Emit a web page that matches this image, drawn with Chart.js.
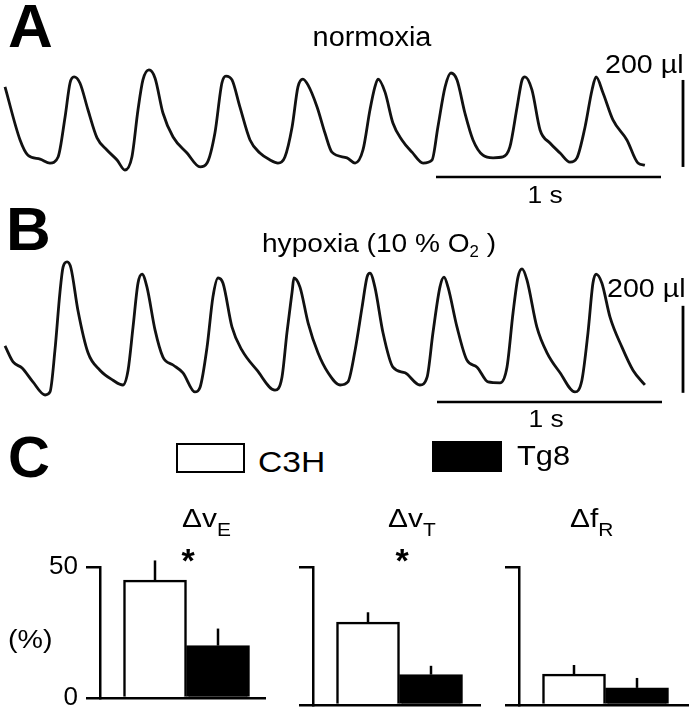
<!DOCTYPE html>
<html>
<head>
<meta charset="utf-8">
<script src="https://cdn.jsdelivr.net/npm/chart.js@4.4.1/dist/chart.umd.min.js"></script>
<style>
  html, body { margin: 0; padding: 0; background: #fff; }
  body { width: 697px; height: 719px; position: relative; overflow: hidden; font-family: "Liberation Sans", Arial, Helvetica, sans-serif; color: #000; }
  canvas { position: absolute; }
  .t { position: absolute; white-space: nowrap; }
  .box { position: absolute; box-sizing: border-box; border: 2.5px solid #000; }
</style>
</head>
<body>
<script>
// ---------- DATA ----------
// Panel A: normoxia airflow trace (time in ms, volume in µl)
const timeA = [0,67,102,156,200,236,267,289,307,333,369,409,453,498,533,564,591,613,640,667,702,747,809,867,898,933,964,982,1009,1044,1089,1133,1178,1213,1244,1276,1302,1324,1347,1387,1422,1453,1520,1556,1591,1622,1644,1658,1689,1724,1764,1809,1858,1898,1924,1956,1982,2009,2044,2080,2124,2169,2213,2244,2276,2298,2311,2342,2378,2422,2467,2511,2542,2578,2609,2627,2658,2702,2764,2813,2844];
const volumeA = [191,69,34,25,16,30,122,200,214,200,138,74,46,23,0,30,138,207,230,211,131,76,39,7,16,85,200,216,207,145,69,39,23,16,30,99,191,209,195,145,85,41,28,16,46,138,191,209,179,108,69,41,16,23,99,191,223,207,131,69,34,28,30,53,145,207,214,184,92,62,39,18,28,99,184,214,177,115,69,16,11];
// Panel B: hypoxia (10 % O2) trace
const timeB = [0,36,76,124,178,200,222,244,258,276,293,324,369,422,480,524,547,569,591,609,631,667,702,747,791,844,867,898,924,947,969,1009,1053,1120,1200,1231,1253,1276,1284,1311,1347,1391,1436,1489,1524,1556,1587,1609,1622,1644,1680,1724,1778,1844,1876,1902,1933,1951,1969,2009,2053,2098,2147,2200,2231,2258,2280,2298,2320,2364,2409,2467,2533,2564,2591,2613,2627,2653,2689,2742,2791,2844];
const volumeB = [113,76,62,30,0,7,103,235,294,306,292,195,97,57,34,23,57,156,257,278,248,149,87,69,51,7,18,110,225,269,257,156,103,57,11,41,143,237,269,248,166,97,51,23,30,103,202,271,280,248,143,64,51,23,41,143,248,271,248,156,80,64,30,28,64,189,271,290,264,156,97,51,7,34,143,257,278,257,179,110,57,23];
// Scale bars
const scaleVolume = 200;   // µl
const scaleTime = 1000;    // ms
// Panel C: percent change on hypoxia
const groups = ['ΔvE', 'ΔvT', 'ΔfR'];
const seriesNames = ['C3H', 'Tg8'];
const c3hMean = [45, 30, 11.2];
const c3hErr = [7.5, 3.6, 3.3];
const tg8Mean = [20, 11, 6.2];
const tg8Err = [6.5, 3.2, 3.6];
const significant = [true, true, false];
const yTicks = [0, 50];

// ---------- LAYOUT ----------
const MS_PER_PX = 1000 / 225;
const UL_PER_PX = 200 / 87;

function label(html, x, base, size, opt = {}) {
  const d = document.createElement('div');
  d.className = 't';
  d.innerHTML = html;
  d.style.fontSize = size + 'px';
  d.style.lineHeight = size + 'px';
  d.style.top = (base - 0.8465 * size) + 'px';
  d.style.left = x + 'px';
  if (opt.bold) d.style.fontWeight = 'bold';
  const s = opt.sx || 1;
  const align = opt.align || 'left';
  if (align === 'center') { d.style.transform = 'translateX(-50%) scaleX(' + s + ')'; d.style.transformOrigin = 'center'; }
  else if (align === 'right') { d.style.transform = 'translateX(-100%) scaleX(' + s + ')'; d.style.transformOrigin = 'right'; }
  else { d.style.transform = 'scaleX(' + s + ')'; d.style.transformOrigin = 'left'; }
  document.body.appendChild(d);
  return d;
}

function makeCanvas(left, top, w, h) {
  const c = document.createElement('canvas');
  c.width = w; c.height = h;
  c.style.left = left + 'px'; c.style.top = top + 'px';
  c.style.width = w + 'px'; c.style.height = h + 'px';
  document.body.appendChild(c);
  return c;
}

function traceChart(times, vols, top, height, zeroY, tBar, vBar0, hBarV, hBarT0) {
  const canvas = makeCanvas(0, top, 697, height);
  const pts = times.map((t, i) => ({ x: t, y: vols[i] }));
  new Chart(canvas, {
    type: 'scatter',
    data: {
      datasets: [
        { data: pts, showLine: true, borderColor: '#111', borderWidth: 2.8, pointRadius: 0, cubicInterpolationMode: 'monotone', clip: false },
        { data: [{ x: tBar, y: vBar0 }, { x: tBar, y: vBar0 + scaleVolume }], showLine: true, borderColor: '#000', borderWidth: 2.8, pointRadius: 0, tension: 0, clip: false },
        { data: [{ x: hBarT0, y: hBarV }, { x: hBarT0 + scaleTime, y: hBarV }], showLine: true, borderColor: '#000', borderWidth: 2.6, pointRadius: 0, tension: 0, clip: false }
      ]
    },
    options: {
      responsive: false, animation: false, devicePixelRatio: 1,
      layout: { padding: 0 },
      plugins: { legend: { display: false }, tooltip: { enabled: false } },
      scales: {
        x: { type: 'linear', display: false, offset: false, min: -5 * MS_PER_PX, max: (697 - 5) * MS_PER_PX },
        y: { type: 'linear', display: false, min: (zeroY - (top + height)) * UL_PER_PX, max: (zeroY - top) * UL_PER_PX }
      }
    }
  });
}

traceChart(timeA, volumeA, 50, 150, 170, (683 - 5) * MS_PER_PX, 7, -16, (436 - 5) * MS_PER_PX);
traceChart(timeB, volumeB, 250, 172, 395, (683 - 5) * MS_PER_PX, 5, -16, (437 - 5) * MS_PER_PX);

// error bar plugin
const errorBars = {
  id: 'errorBars',
  afterDatasetsDraw(chart, args, opts) {
    const ctx = chart.ctx;
    const meta = chart.getDatasetMeta(0);
    const ys = chart.scales.y;
    ctx.save();
    ctx.strokeStyle = '#000';
    ctx.lineWidth = 2.5;
    meta.data.forEach((bar, i) => {
      const val = chart.data.datasets[0].data[i].y;
      const err = opts.errors[i];
      ctx.beginPath();
      ctx.moveTo(bar.x, ys.getPixelForValue(val));
      ctx.lineTo(bar.x, ys.getPixelForValue(val + err));
      ctx.stroke();
    });
    ctx.restore();
  }
};

const barAxisX = [100, 313, 519];
const barRight = [266, 481, 689];
const PX_PER_UNIT = 63;
const CENTER_OFFSET = 55;
groups.forEach((g, i) => {
  const axisW = i === 0 ? 100 : 30;
  const left = barAxisX[i] - axisW;
  const width = barRight[i] - left;
  const areaW = barRight[i] - barAxisX[i];
  const canvas = makeCanvas(left, 530, width, 189);
  const xmin = -CENTER_OFFSET / PX_PER_UNIT;
  new Chart(canvas, {
    type: 'bar',
    data: {
      datasets: [{
        label: g,
        data: [{ x: 0, y: c3hMean[i] }, { x: 1, y: tg8Mean[i] }],
        backgroundColor: ['#fff', '#000'],
        borderColor: '#000',
        borderWidth: 2.5,
        barThickness: 63,
        borderSkipped: 'start'
      }]
    },
    plugins: [errorBars],
    options: {
      responsive: false, animation: false, devicePixelRatio: 1,
      layout: { padding: { top: 37, bottom: 14, left: 0, right: 0 } },
      plugins: { legend: { display: false }, tooltip: { enabled: false }, errorBars: { errors: [c3hErr[i], tg8Err[i]] } },
      scales: {
        x: {
          type: 'linear', min: xmin, max: xmin + areaW / PX_PER_UNIT, offset: false,
          grid: { display: false, drawTicks: false, offset: false },
          ticks: { display: false },
          border: { display: true, color: '#000', width: 2.5 },
          afterFit: s => { s.height = 0; }
        },
        y: {
          type: 'linear', min: 0, max: 50,
          afterBuildTicks: s => { s.ticks = yTicks.map(v => ({ value: v })); },
          ticks: { display: i === 0, color: '#000', padding: 8, font: { family: '"Liberation Sans", Arial, sans-serif', size: 26, lineHeight: 1 } },
          grid: { display: true, drawOnChartArea: false, drawTicks: true, tickLength: 14, color: '#000', tickColor: '#000', lineWidth: 2.5, tickWidth: 2.5 },
          border: { display: true, color: '#000', width: 2.5 },
          afterFit: s => { s.width = axisW; }
        }
      }
    }
  });
});

// ---------- TEXT ----------
label('A', 8, 47, 62, { bold: true });
label('normoxia', 372, 47, 27, { align: 'center', sx: 1.07 });
label('200 µl', 605, 73, 26, { sx: 1.1 });
label('1 s', 545, 203, 24, { align: 'center', sx: 1.1 });
label('B', 6, 250, 62, { bold: true });
label('hypoxia (10 % O<span style="font-size:0.6em;position:relative;top:0.32em">2</span> )', 262, 252, 26, { sx: 1.08 });
label('200 µl', 607, 297, 26, { sx: 1.1 });
label('1 s', 546, 427, 24, { align: 'center', sx: 1.1 });
label('C', 8, 477, 58, { bold: true });

// legend
function legendBox(x, y, w, h, fill) {
  const b = document.createElement('div');
  b.className = 'box';
  b.style.left = x + 'px'; b.style.top = y + 'px';
  b.style.width = w + 'px'; b.style.height = h + 'px';
  b.style.background = fill;
  document.body.appendChild(b);
}
legendBox(176, 443, 69, 30, '#fff');
label(seriesNames[0], 258, 472, 30, { sx: 1.12 });
legendBox(432, 441, 70, 31, '#000');
label(seriesNames[1], 517, 466, 28, { sx: 1.1 });

// group titles
const titleX = [182, 388, 570];
const starX = [188, 402, null];
groups.forEach((g, i) => {
  const main = g.slice(0, 2), sub = g.slice(2);
  label(main + '<span style="font-size:0.7em;position:relative;top:0.5em">' + sub + '</span>', titleX[i], 527, 26, { sx: 1.15 });
  if (significant[i]) label('*', starX[i], 572, 34, { bold: true, align: 'center' });
});
label('(%)', 8, 648, 26, { sx: 1.1 });
</script>
</body>
</html>
